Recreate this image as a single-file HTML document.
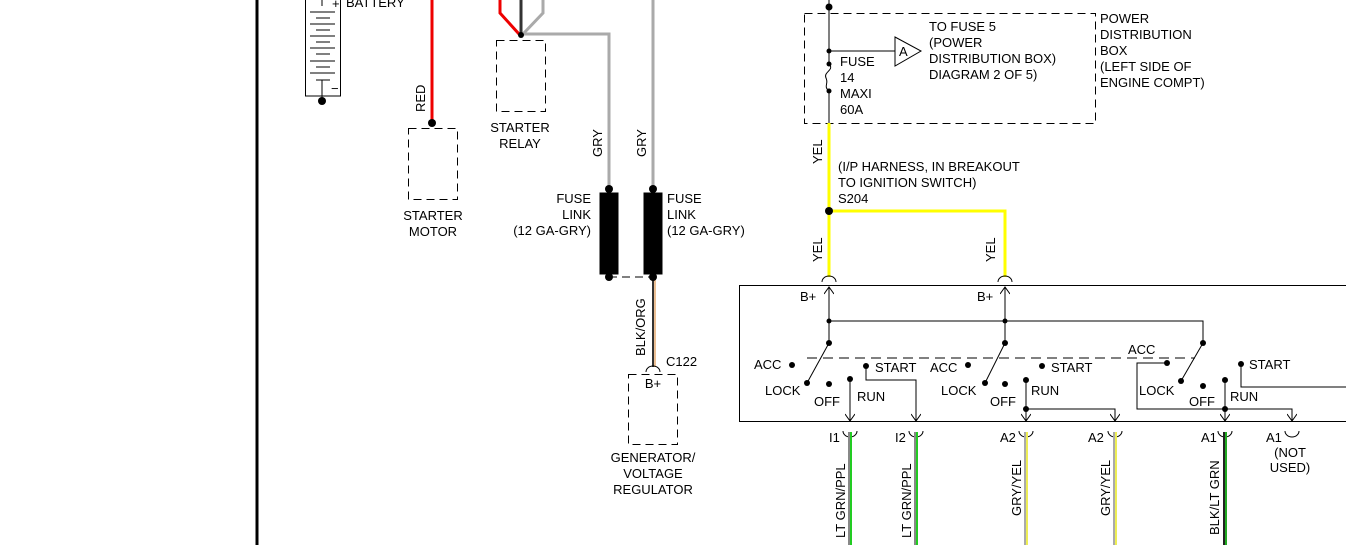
<!DOCTYPE html>
<html><head><meta charset="utf-8"><style>
html,body{margin:0;padding:0;background:#fff;width:1346px;height:545px;overflow:hidden}
text{font-family:"Liberation Sans",Arial,sans-serif;font-size:13px;fill:#000}
</style></head><body>
<svg width="1346" height="545" viewBox="0 0 1346 545" xmlns="http://www.w3.org/2000/svg">
<defs>
<marker id="ar" markerWidth="10" markerHeight="10" refX="8" refY="5" orient="auto" markerUnits="userSpaceOnUse">
<path d="M1,0 L8,5 L1,10" fill="none" stroke="#000" stroke-width="1"/></marker>
</defs>
<g stroke="#000" fill="none" stroke-width="1">
<line x1="257" y1="0" x2="257" y2="545" stroke-width="3"/>
<rect x="305.5" y="-2" width="35" height="98"/>
<line x1="322" y1="0" x2="322" y2="6"/>
<line x1="310" y1="12" x2="335" y2="12"/><line x1="316" y1="18" x2="330" y2="18"/>
<line x1="310" y1="24" x2="335" y2="24"/><line x1="316" y1="30" x2="330" y2="30"/>
<line x1="310" y1="36" x2="335" y2="36"/><line x1="316" y1="42" x2="330" y2="42"/>
<line x1="310" y1="48" x2="335" y2="48"/><line x1="316" y1="54" x2="330" y2="54"/>
<line x1="310" y1="61" x2="335" y2="61"/><line x1="316" y1="67" x2="330" y2="67"/>
<line x1="310" y1="73" x2="335" y2="73"/><line x1="316" y1="80" x2="330" y2="80"/>
<line x1="322" y1="80" x2="322" y2="100"/>
<line x1="432" y1="0" x2="432" y2="123" stroke="#e00" stroke-width="3"/>
<rect x="408.5" y="128.5" width="49" height="71" stroke-dasharray="8,5"/>
<polyline points="500,0 500,13 519,34" stroke="#e00" stroke-width="3"/>
<line x1="521" y1="0" x2="521" y2="34" stroke="#333" stroke-width="3"/>
<polyline points="543,0 543,13 523,34" stroke="#aaa" stroke-width="3"/>
<polyline points="521,34 609,34 609,189" stroke="#aaa" stroke-width="3"/>
<line x1="653" y1="0" x2="653" y2="189" stroke="#aaa" stroke-width="3"/>
<rect x="496.5" y="40.5" width="49" height="71" stroke-dasharray="8,5"/>
<rect x="600" y="193" width="18" height="81" fill="#000"/>
<rect x="644" y="193" width="18" height="81" fill="#000"/>
<line x1="609" y1="277" x2="653" y2="277" stroke-dasharray="8,5"/>
<line x1="653" y1="277" x2="653" y2="367" stroke="#333" stroke-width="2"/>
<line x1="655" y1="279" x2="655" y2="367" stroke="#d9822b" stroke-width="1"/>
<path d="M646,372 A7,6 0 0 1 660,372"/>
<rect x="628.5" y="374.5" width="49" height="70" stroke-dasharray="8,5"/>
<line x1="829" y1="0" x2="829" y2="64"/>
<line x1="829" y1="91" x2="829" y2="123"/>
<path d="M829,64 C835,70 823,72 826,78 C829,84 823,86 829,91"/>
<rect x="804.5" y="13.5" width="291" height="110" stroke-dasharray="8,5"/>
<line x1="829" y1="51" x2="895" y2="51"/>
<polygon points="895,37 921,51 895,66"/>
<line x1="829" y1="123" x2="829" y2="277" stroke="#ff0" stroke-width="3"/>
<polyline points="829,211 1005,211 1005,277" stroke="#ff0" stroke-width="3"/>
<path d="M822,282 A7,6 0 0 1 836,282"/>
<path d="M998,282 A7,6 0 0 1 1012,282"/>
<rect x="739.5" y="285.5" width="620" height="136"/>
<line x1="829" y1="343" x2="829" y2="287" marker-end="url(#ar)"/>
<line x1="1005" y1="343" x2="1005" y2="287" marker-end="url(#ar)"/>
<polyline points="829,321 1203,321 1203,343"/>
<line x1="807" y1="358" x2="1195" y2="358" stroke-dasharray="10,6"/>
<line x1="829" y1="343" x2="807" y2="383"/>
<line x1="1005" y1="343" x2="985" y2="383"/>
<line x1="1203" y1="343" x2="1181" y2="381"/>
<line x1="850" y1="378" x2="850" y2="421" marker-end="url(#ar)"/>
<polyline points="866,366 866,380 916,380 916,421" marker-end="url(#ar)"/>
<line x1="1026" y1="380" x2="1026" y2="421" marker-end="url(#ar)"/>
<polyline points="1026,409 1115,409 1115,421" marker-end="url(#ar)"/>
<polyline points="1167,363 1137,363 1137,409 1292,409 1292,421" marker-end="url(#ar)"/>
<line x1="1225" y1="380" x2="1225" y2="421" marker-end="url(#ar)"/>
<polyline points="1241,364 1241,387 1346,387"/>
<path d="M843,431 A7,6 0 0 0 857,431"/>
<path d="M909,431 A7,6 0 0 0 923,431"/>
<path d="M1019,431 A7,6 0 0 0 1033,431"/>
<path d="M1108,431 A7,6 0 0 0 1122,431"/>
<path d="M1218,431 A7,6 0 0 0 1232,431"/>
<path d="M1285,431 A7,6 0 0 0 1299,431"/>
</g>
<g stroke-width="2">
<line x1="849" y1="432" x2="849" y2="545" stroke="#888"/><line x1="851" y1="432" x2="851" y2="545" stroke="#2c2"/>
<line x1="915" y1="432" x2="915" y2="545" stroke="#888"/><line x1="917" y1="432" x2="917" y2="545" stroke="#2c2"/>
<line x1="1025" y1="432" x2="1025" y2="545" stroke="#aaa"/><line x1="1027" y1="432" x2="1027" y2="545" stroke="#ee5"/>
<line x1="1114" y1="432" x2="1114" y2="545" stroke="#aaa"/><line x1="1116" y1="432" x2="1116" y2="545" stroke="#ee5"/>
<line x1="1224" y1="432" x2="1224" y2="545" stroke="#222"/><line x1="1226" y1="432" x2="1226" y2="545" stroke="#2a2"/>
</g>
<g fill="#000">
<circle cx="322" cy="101" r="4"/><circle cx="432" cy="123" r="4"/><circle cx="521" cy="35" r="3"/>
<circle cx="609" cy="189" r="4"/><circle cx="653" cy="189" r="4"/><circle cx="609" cy="277" r="4"/><circle cx="653" cy="277" r="4"/>
<circle cx="829" cy="7" r="3.5"/><circle cx="829" cy="51" r="2.5"/><circle cx="829" cy="64" r="2.5"/><circle cx="829" cy="91" r="2.5"/>
<circle cx="829" cy="211" r="4"/>
<circle cx="829" cy="321" r="2.5"/><circle cx="1005" cy="321" r="2.5"/><circle cx="829" cy="343" r="3"/><circle cx="1005" cy="343" r="3"/><circle cx="1203" cy="343" r="3"/>
<circle cx="792" cy="365" r="3"/><circle cx="866" cy="366" r="3"/><circle cx="807" cy="383" r="3"/><circle cx="829" cy="384" r="3"/><circle cx="850" cy="379" r="3"/>
<circle cx="968" cy="365" r="3"/><circle cx="1042" cy="366" r="3"/><circle cx="985" cy="383" r="3"/><circle cx="1005" cy="384" r="3"/><circle cx="1026" cy="380" r="3"/><circle cx="1026" cy="409" r="3"/>
<circle cx="1167" cy="363" r="3"/><circle cx="1241" cy="364" r="3"/><circle cx="1181" cy="381" r="3"/><circle cx="1203" cy="386" r="3"/><circle cx="1225" cy="380" r="3"/><circle cx="1225" cy="409" r="3"/>
</g>
<text x="346" y="7">BATTERY</text>
<text x="332" y="8" font-size="11">+</text><text x="331" y="93" font-size="11">−</text>
<text transform="translate(425,112) rotate(-90)">RED</text>
<text x="433" y="220" text-anchor="middle">STARTER</text><text x="433" y="236" text-anchor="middle">MOTOR</text>
<text x="520" y="132" text-anchor="middle">STARTER</text><text x="520" y="148" text-anchor="middle">RELAY</text>
<text transform="translate(602,157) rotate(-90)">GRY</text>
<text transform="translate(646,157) rotate(-90)">GRY</text>
<text x="591" y="203" text-anchor="end">FUSE</text><text x="591" y="219" text-anchor="end">LINK</text><text x="591" y="235" text-anchor="end">(12 GA-GRY)</text>
<text x="667" y="203">FUSE</text><text x="667" y="219">LINK</text><text x="667" y="235">(12 GA-GRY)</text>
<text transform="translate(645,356) rotate(-90)">BLK/ORG</text>
<text x="666" y="366">C122</text>
<text x="653" y="388" text-anchor="middle">B+</text>
<text x="653" y="462" text-anchor="middle">GENERATOR/</text><text x="653" y="478" text-anchor="middle">VOLTAGE</text><text x="653" y="494" text-anchor="middle">REGULATOR</text>
<text x="840" y="66">FUSE</text><text x="840" y="82">14</text><text x="840" y="98">MAXI</text><text x="840" y="114">60A</text>
<text x="899" y="56" font-size="12">A</text>
<text x="929" y="31">TO FUSE 5</text><text x="929" y="47">(POWER</text><text x="929" y="63">DISTRIBUTION BOX)</text><text x="929" y="79">DIAGRAM 2 OF 5)</text>
<text x="1100" y="23">POWER</text><text x="1100" y="39">DISTRIBUTION</text><text x="1100" y="55">BOX</text><text x="1100" y="71">(LEFT SIDE OF</text><text x="1100" y="87">ENGINE COMPT)</text>
<text transform="translate(822,164) rotate(-90)">YEL</text>
<text x="838" y="171">(I/P HARNESS, IN BREAKOUT</text><text x="838" y="187">TO IGNITION SWITCH)</text><text x="838" y="203">S204</text>
<text transform="translate(822,262) rotate(-90)">YEL</text>
<text transform="translate(995,262) rotate(-90)">YEL</text>
<text x="800" y="301">B+</text><text x="977" y="301">B+</text>
<text x="754" y="369">ACC</text><text x="875" y="372">START</text><text x="765" y="395">LOCK</text><text x="814" y="406">OFF</text><text x="857" y="401">RUN</text>
<text x="930" y="372">ACC</text><text x="1051" y="372">START</text><text x="941" y="395">LOCK</text><text x="990" y="406">OFF</text><text x="1031" y="395">RUN</text>
<text x="1128" y="354">ACC</text><text x="1249" y="369">START</text><text x="1139" y="395">LOCK</text><text x="1189" y="406">OFF</text><text x="1230" y="401">RUN</text>
<text x="829" y="442">I1</text><text x="895" y="442">I2</text><text x="1000" y="442">A2</text><text x="1088" y="442">A2</text><text x="1201" y="442">A1</text><text x="1266" y="442">A1</text>
<text x="1290" y="457" text-anchor="middle">(NOT</text><text x="1290" y="472" text-anchor="middle">USED)</text>
<text transform="translate(845,538) rotate(-90)">LT GRN/PPL</text>
<text transform="translate(911,538) rotate(-90)">LT GRN/PPL</text>
<text transform="translate(1021,516) rotate(-90)">GRY/YEL</text>
<text transform="translate(1110,516) rotate(-90)">GRY/YEL</text>
<text transform="translate(1219,535) rotate(-90)">BLK/LT GRN</text>
</svg>
</body></html>
